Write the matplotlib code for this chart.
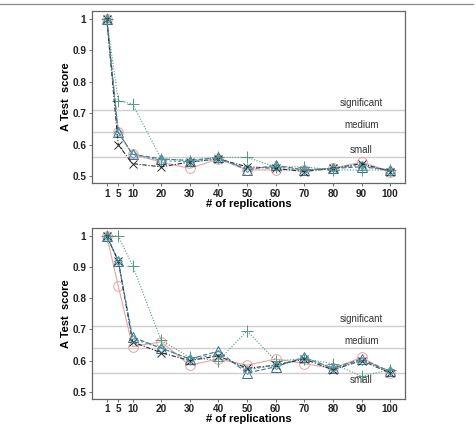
import matplotlib
matplotlib.use("Agg")
import matplotlib.pyplot as plt
from matplotlib.lines import Line2D

plt.rcParams['font.family'] = ['Liberation Sans', 'DejaVu Sans']

reps = [1, 5, 10, 20, 30, 40, 50, 60, 70, 80, 90, 100]
thresholds = [0.71, 0.64, 0.56]
threshold_labels = ["significant", "medium", "small"]

top_circle = [1.0, 0.64, 0.57, 0.545, 0.525, 0.555, 0.52, 0.52, 0.52, 0.525, 0.545, 0.515]
top_triangle = [1.0, 0.64, 0.57, 0.555, 0.55, 0.56, 0.52, 0.535, 0.52, 0.525, 0.53, 0.52]
top_plus = [1.0, 0.74, 0.73, 0.555, 0.55, 0.56, 0.56, 0.53, 0.53, 0.52, 0.52, 0.52]
top_cross = [1.0, 0.60, 0.54, 0.53, 0.545, 0.555, 0.53, 0.525, 0.515, 0.525, 0.54, 0.515]
top_diamond = [1.0, 0.64, 0.57, 0.55, 0.545, 0.555, 0.525, 0.53, 0.52, 0.525, 0.535, 0.515]

bot_circle = [1.0, 0.84, 0.645, 0.66, 0.585, 0.605, 0.585, 0.605, 0.59, 0.575, 0.61, 0.56]
bot_triangle = [1.0, 0.92, 0.675, 0.64, 0.605, 0.63, 0.56, 0.58, 0.61, 0.575, 0.605, 0.565]
bot_plus = [1.0, 1.0, 0.905, 0.665, 0.61, 0.60, 0.695, 0.60, 0.605, 0.59, 0.55, 0.57]
bot_cross = [1.0, 0.92, 0.66, 0.625, 0.60, 0.615, 0.575, 0.585, 0.605, 0.57, 0.60, 0.56]
bot_diamond = [1.0, 0.92, 0.67, 0.64, 0.605, 0.62, 0.57, 0.585, 0.61, 0.575, 0.60, 0.565]

styles = [
    dict(marker='o', color='#e8a3a3', ls='-', ms=7),
    dict(marker='^', color='#3f6f8a', ls=(0, (4, 2)), ms=7),
    dict(marker='+', color='#4f9a86', ls=(0, (1, 1.5)), ms=8),
    dict(marker='x', color='#2b2b2b', ls=(0, (4, 1.5, 1, 1.5)), ms=6),
    dict(marker='D', color='#4a9aa8', ls=(0, (2, 2)), ms=4.5),
]

fig = plt.figure(figsize=(4.76, 4.24), dpi=100)

def panel(rect, series, small_below):
    ax = fig.add_axes(rect)
    for y, lab in zip(thresholds, threshold_labels):
        ax.axhline(y, color='#cfcfcf', lw=1.0, zorder=1)
    for ys, st in zip(series, styles):
        ax.plot(reps, ys, linestyle=st['ls'], color=st['color'], lw=0.8,
                marker=st['marker'], ms=st['ms'], mfc='none', mec=st['color'],
                mew=0.7, zorder=3)
    for y, lab in zip(thresholds, threshold_labels):
        if lab == 'small' and small_below:
            ax.text(90, y - 0.006, lab, ha='center', va='top', fontsize=7, color='#333333')
        else:
            ax.text(90, y + 0.006, lab, ha='center', va='bottom', fontsize=7, color='#333333')
    ax.set_xlim(-4.2, 105.2)
    ax.set_ylim(0.478, 1.025)
    ax.set_xticks(reps)
    ax.set_xticklabels([str(r) for r in reps])
    ax.set_yticks([0.5, 0.6, 0.7, 0.8, 0.9, 1.0])
    ax.set_yticklabels(['0.5', '0.6', '0.7', '0.8', '0.9', '1'])
    for lbl in ax.get_xticklabels() + ax.get_yticklabels():
        lbl.set_fontweight('bold')
        lbl.set_fontsize(7.2)
        lbl.set_color('#222222')
    ax.tick_params(length=2.5, width=0.6, color='#555555', pad=1.5)
    for sp in ax.spines.values():
        sp.set_color('#666666')
        sp.set_linewidth(0.9)
    ax.set_xlabel('# of replications', fontsize=8, fontweight='bold', labelpad=0)
    ax.set_ylabel('A Test  score', fontsize=8, fontweight='bold', labelpad=1)
    return ax

panel([0.193, 0.568, 0.658, 0.406],
      [top_circle, top_triangle, top_plus, top_cross, top_diamond], False)
panel([0.193, 0.060, 0.658, 0.402],
      [bot_circle, bot_triangle, bot_plus, bot_cross, bot_diamond], True)

fig.add_artist(Line2D([0.0, 0.994], [1 - 3.5 / 424, 1 - 3.5 / 424],
                      transform=fig.transFigure, color='#888888', lw=0.9))

fig.savefig('out.png', dpi=100)
